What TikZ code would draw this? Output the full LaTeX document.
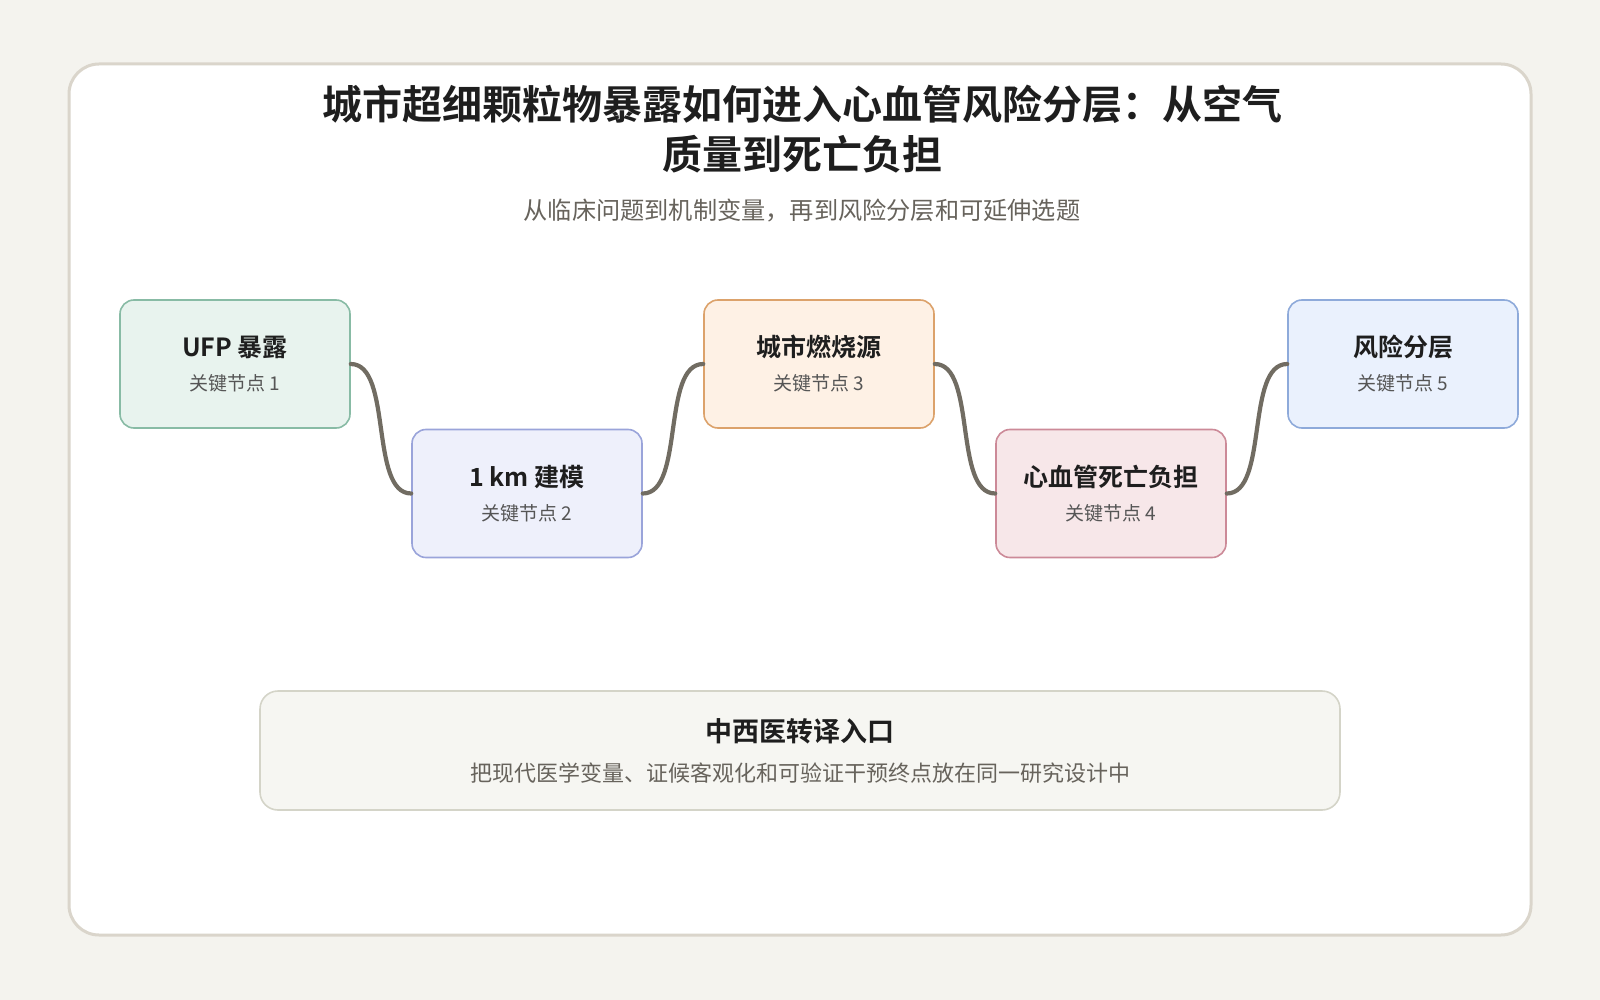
\documentclass[tikz,border=0pt]{standalone}
\usepackage{fontspec}
\setmainfont{Noto Sans CJK SC}[BoldFont={Noto Sans CJK SC Bold}]
\definecolor{pagebg}{HTML}{F4F3EE}
\definecolor{cardline}{HTML}{DAD5CB}
\definecolor{linkgray}{HTML}{716C62}
\definecolor{titleink}{HTML}{1E1E1E}
\definecolor{subink}{HTML}{67635C}
\definecolor{noteink}{HTML}{555555}
\definecolor{greenfill}{HTML}{E8F3EE}
\definecolor{greenline}{HTML}{88BBA5}
\definecolor{violetfill}{HTML}{EEF0FB}
\definecolor{violetline}{HTML}{9AA4DA}
\definecolor{orangefill}{HTML}{FEF1E5}
\definecolor{orangeline}{HTML}{DCA26B}
\definecolor{rosefill}{HTML}{F7E7E9}
\definecolor{roseline}{HTML}{CC8A98}
\definecolor{bluefill}{HTML}{EAF1FD}
\definecolor{blueline}{HTML}{8EAADA}
\definecolor{notefill}{HTML}{F6F6F2}
\definecolor{noteline}{HTML}{D4D4C8}
\newcommand{\keylabel}[1]{{\fontsize{19}{22}\selectfont\mdseries\color{noteink}#1}}
\begin{document}
\begin{tikzpicture}[x=1pt, y=-1pt,
		stepbox/.style={draw, line width=1.6pt, rounded corners=14pt, minimum width=230pt, minimum height=128pt,
			align=center, text=titleink, font=\fontsize{25}{34}\selectfont\bfseries},
		link/.style={draw=linkgray, line width=4.2pt, line cap=round}]
		% фон и карточка
		\fill [pagebg] ( 0, 0 ) rectangle ( 1600, 1000 );
		\draw [fill=white, draw=cardline, line width=3pt, rounded corners=30pt] ( 69, 64 ) rectangle ( 1531, 935 );

		% заголовок
		\node (title) [align=center, text=titleink, font=\fontsize{40}{50}\selectfont\bfseries] at ( 802, 129.5 ) {城市超细颗粒物暴露如何进入心血管风险分层：从空气\\质量到死亡负担};
		\node (subtitle) [text=subink, font=\fontsize{24.2}{28}\selectfont] at ( 802, 211 ) {从临床问题到机制变量，再到风险分层和可延伸选题};

		% ключевые узлы
		\node (ufp) [stepbox, fill=greenfill, draw=greenline] at ( 235, 364 ) {UFP 暴露\\\keylabel{关键节点 1}};
		\node (grid) [stepbox, fill=violetfill, draw=violetline] at ( 527, 493.5 ) {1 km 建模\\\keylabel{关键节点 2}};
		\node (burn) [stepbox, fill=orangefill, draw=orangeline] at ( 819, 364 ) {城市燃烧源\\\keylabel{关键节点 3}};
		\node (death) [stepbox, fill=rosefill, draw=roseline] at ( 1111, 493.5 ) {心血管死亡负担\\\keylabel{关键节点 4}};
		\node (strata) [stepbox, fill=bluefill, draw=blueline] at ( 1403, 364 ) {风险分层\\\keylabel{关键节点 5}};

		% связи
		\draw [link] (ufp.east) .. controls +( 42, 0 ) and +( -42, 0 ) .. (grid.west);
		\draw [link] (grid.east) .. controls +( 42, 0 ) and +( -42, 0 ) .. (burn.west);
		\draw [link] (burn.east) .. controls +( 42, 0 ) and +( -42, 0 ) .. (death.west);
		\draw [link] (death.east) .. controls +( 42, 0 ) and +( -42, 0 ) .. (strata.west);

		% нижняя панель
		\node (bridge) [draw=noteline, fill=notefill, line width=1.6pt, rounded corners=18pt, minimum width=1080pt, minimum height=119pt,
			align=center, text=titleink, font=\fontsize{27}{40}\selectfont\bfseries] at ( 800, 750.5 )
			{中西医转译入口\\{\fontsize{22}{26}\selectfont\mdseries\color{subink}把现代医学变量、证候客观化和可验证干预终点放在同一研究设计中}};
	\end{tikzpicture}
\end{document}
